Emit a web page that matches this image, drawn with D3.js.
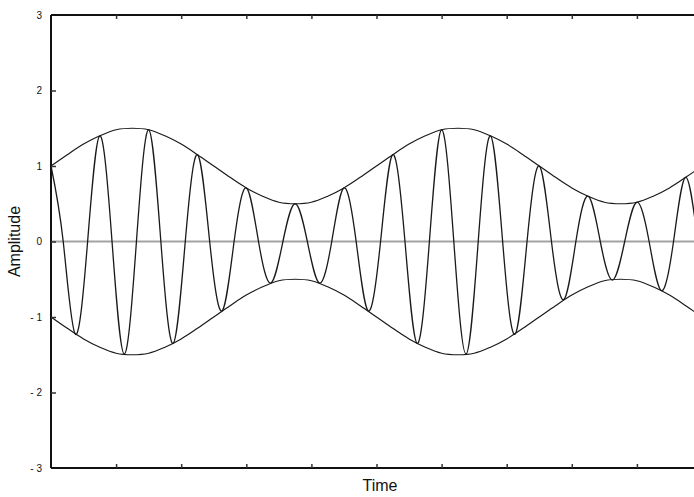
<!DOCTYPE html>
<html>
<head>
<meta charset="utf-8">
<script src="https://cdn.jsdelivr.net/npm/d3@7/dist/d3.min.js"></script>
<style>
  html, body { margin: 0; padding: 0; background: #fff; }
  svg { display: block; font-family: "Liberation Sans", Arial, sans-serif; }
</style>
</head>
<body>
<svg id="chart" width="694" height="497"></svg>
<script>
// Amplitude-modulated wave: carrier extremes and envelope values
const yTicks = [-3, -2, -1, 0, 1, 2, 3];
const xTicks = [1, 2, 3, 4, 5, 6, 7, 8, 9];

// Time of each carrier peak/trough and its amplitude (alternating sign)
const peakTimes = [0, 0.375, 0.75, 1.125, 1.5, 1.875, 2.25, 2.625, 3.0, 3.375,
  3.75, 4.125, 4.5, 4.875, 5.25, 5.625, 6.0, 6.375, 6.75, 7.125,
  7.5, 7.875, 8.25, 8.625, 9.0, 9.375, 9.75, 10.125];
const peakValues = [1.00, -1.23, 1.40, -1.49, 1.48, -1.35, 1.15, -0.92, 0.71, -0.55,
  0.50, -0.55, 0.71, -0.92, 1.15, -1.35, 1.48, -1.49, 1.40, -1.23,
  1.00, -0.77, 0.60, -0.51, 0.52, -0.65, 0.85, -1.08];

// Envelope magnitude sampled every 0.25 time units
const envTimes = d3.range(41).map(i => i * 0.25);
const envValues = [1.00, 1.15, 1.29, 1.40, 1.48, 1.50, 1.48, 1.40, 1.29, 1.15,
  1.00, 0.85, 0.71, 0.60, 0.52, 0.50, 0.52, 0.60, 0.71, 0.85,
  1.00, 1.15, 1.29, 1.40, 1.48, 1.50, 1.48, 1.40, 1.29, 1.15,
  1.00, 0.85, 0.71, 0.60, 0.52, 0.50, 0.52, 0.60, 0.71, 0.85, 1.00];

const svg = d3.select("#chart");
const plotL = 51, plotR = 702, plotT = 15, plotB = 468;

const x = d3.scaleLinear().domain([0, 10]).range([plotL, plotR]);
const y = d3.scaleLinear().domain([-3, 3]).range([plotB, plotT]);

svg.append("defs").append("clipPath").attr("id", "plot")
  .append("rect").attr("x", plotL).attr("y", plotT)
  .attr("width", plotR - plotL).attr("height", plotB - plotT);

// zero reference line
svg.append("line")
  .attr("x1", plotL).attr("x2", plotR)
  .attr("y1", y(0)).attr("y2", y(0))
  .attr("stroke", "#a3a3a3").attr("stroke-width", 2);

const g = svg.append("g").attr("clip-path", "url(#plot)");

// carrier: extremes joined through the zero crossings between them
const carrierPts = [];
peakTimes.forEach((t, i) => {
  carrierPts.push([t, peakValues[i]]);
  if (i < peakTimes.length - 1) carrierPts.push([(t + peakTimes[i + 1]) / 2, 0]);
});
const carrierLine = d3.line()
  .x(d => x(d[0])).y(d => y(d[1]))
  .curve(d3.curveNatural);
g.append("path").datum(carrierPts)
  .attr("d", carrierLine)
  .attr("fill", "none").attr("stroke", "#1a1a1a").attr("stroke-width", 1.3);

// upper and lower envelope
const envLine = sign => d3.line()
  .x((d, i) => x(envTimes[i]))
  .y(d => y(sign * d))
  .curve(d3.curveCatmullRom);
[1, -1].forEach(s => {
  g.append("path").datum(envValues)
    .attr("d", envLine(s))
    .attr("fill", "none").attr("stroke", "#1a1a1a").attr("stroke-width", 1.2);
});

// frame: left, bottom and top borders with inward ticks
const axisColor = "#111";
svg.append("line").attr("x1", plotL).attr("x2", plotL).attr("y1", plotT).attr("y2", plotB)
  .attr("stroke", axisColor).attr("stroke-width", 2);
svg.append("line").attr("x1", plotL).attr("x2", plotR).attr("y1", plotB).attr("y2", plotB)
  .attr("stroke", axisColor).attr("stroke-width", 2);
svg.append("line").attr("x1", plotL).attr("x2", plotR).attr("y1", plotT).attr("y2", plotT)
  .attr("stroke", axisColor).attr("stroke-width", 2);

const bottomAxis = d3.axisBottom(x).tickValues(xTicks).tickSize(-4).tickFormat("");
const topAxis = d3.axisTop(x).tickValues(xTicks).tickSize(-4).tickFormat("");
[[plotB, bottomAxis], [plotT, topAxis]].forEach(([pos, ax]) => {
  const a = svg.append("g").attr("transform", `translate(0,${pos})`).call(ax);
  a.select(".domain").remove();
  a.selectAll(".tick line").attr("stroke", "#333").attr("stroke-width", 1.5);
});

const leftAxis = d3.axisLeft(y).tickValues(yTicks).tickSize(0).tickPadding(9)
  .tickFormat(d => d < 0 ? "- " + Math.abs(d) : d);
const la = svg.append("g").attr("transform", `translate(${plotL},0)`).call(leftAxis);
la.select(".domain").remove();
la.selectAll(".tick text").attr("font-size", 10).attr("fill", "#111")
  .attr("font-family", "Liberation Sans, Arial, sans-serif");
la.selectAll(".tick").filter(d => d > -3 && d < 3).append("line")
  .attr("x1", 0).attr("x2", 5).attr("stroke", "#333").attr("stroke-width", 1.5);

// axis titles
svg.append("text").attr("x", 380).attr("y", 491)
  .attr("text-anchor", "middle").attr("font-size", 16).attr("fill", "#111")
  .text("Time");
svg.append("text")
  .attr("transform", `translate(20,${y(0)}) rotate(-90)`)
  .attr("text-anchor", "middle").attr("font-size", 16).attr("fill", "#111")
  .text("Amplitude");
</script>
</body>
</html>
